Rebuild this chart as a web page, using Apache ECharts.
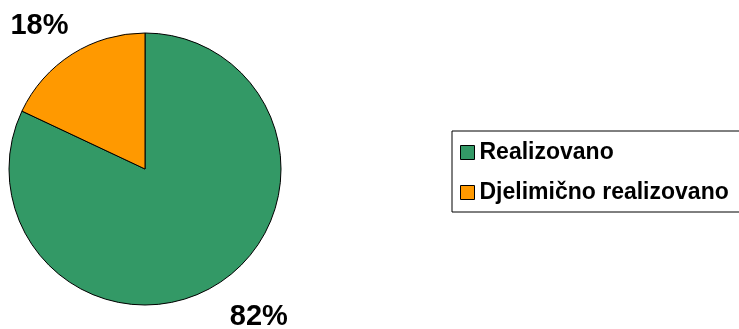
<!DOCTYPE html>
<html>
<head>
<meta charset="utf-8">
<script src="https://cdn.jsdelivr.net/npm/echarts@6/dist/echarts.min.js"></script>
<style>html,body{margin:0;padding:0;background:#fff}#c{width:739px;height:329px}</style>
</head>
<body>
<div id="c"></div>
<script>
const categories = ["Realizovano", "Djelimično realizovano"];
const values = [82, 18];
const colors = ["#339966", "#FF9900"];
const labelLens = [39, 33];
const labelDist = [-9, -14];

const chart = echarts.init(document.getElementById('c'), null, {renderer: 'canvas'});
chart.setOption({
  animation: false,
  legend: {
    orient: 'vertical',
    left: 452,
    top: 131,
    padding: [10, 40, 8, 8],
    itemGap: 17,
    itemWidth: 14,
    itemHeight: 14,
    itemTextGap: 9,
    icon: 'rect',
    borderColor: '#000',
    borderWidth: 1,
    borderRadius: 0,
    itemStyle: {borderColor: '#000', borderWidth: 1},
    textStyle: {fontFamily: 'Liberation Sans, Arial', fontWeight: 'bold', fontSize: 23, color: '#000'},
    data: categories
  },
  series: [{
    type: 'pie',
    center: [145, 169],
    radius: 136,
    startAngle: 90,
    clockwise: true,
    avoidLabelOverlap: false,
    itemStyle: {borderColor: '#000', borderWidth: 1},
    label: {
      show: true,
      position: 'outside',
      formatter: '{d}%',
      fontFamily: 'Liberation Sans, Arial',
      fontWeight: 'bold',
      fontSize: 29,
      color: '#000'
    },
    labelLine: {show: false, length2: 0},
    data: categories.map((n, i) => ({
      name: n,
      value: values[i],
      itemStyle: {color: colors[i]},
      label: {distanceToLabelLine: labelDist[i]},
      labelLine: {show: false, length: labelLens[i], length2: 0}
    }))
  }]
});
</script>
</body>
</html>
